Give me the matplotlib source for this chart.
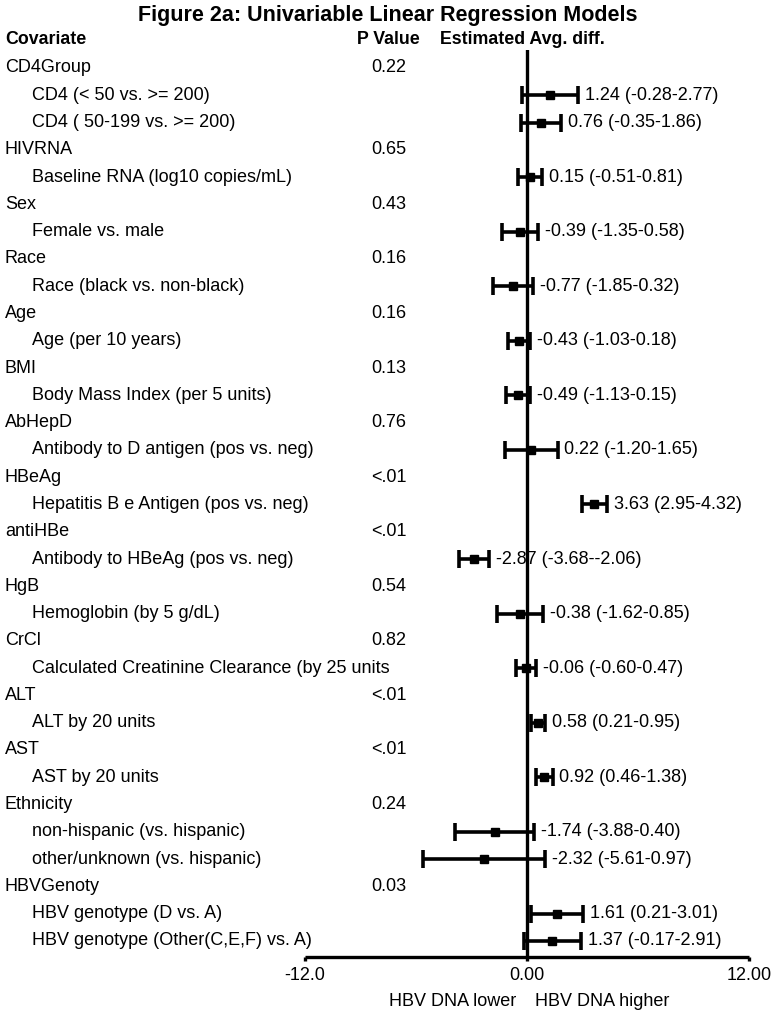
import matplotlib
matplotlib.use("Agg")
import matplotlib.pyplot as plt

plt.rcParams['font.family'] = ['Liberation Sans', 'DejaVu Sans']

# ---------------- data ----------------
groups = ["CD4Group", "HIVRNA", "Sex", "Race", "Age", "BMI", "AbHepD", "HBeAg",
          "antiHBe", "HgB", "CrCl", "ALT", "AST", "Ethnicity", "HBVGenoty"]
group_pvalues = ["0.22", "0.65", "0.43", "0.16", "0.16", "0.13", "0.76", "<.01",
                 "<.01", "0.54", "0.82", "<.01", "<.01", "0.24", "0.03"]
group_items = [
    ["CD4 (< 50 vs. >= 200)", "CD4 ( 50-199 vs. >= 200)"],
    ["Baseline RNA (log10 copies/mL)"],
    ["Female vs. male"],
    ["Race (black vs. non-black)"],
    ["Age (per 10 years)"],
    ["Body Mass Index (per 5 units)"],
    ["Antibody to D antigen (pos vs. neg)"],
    ["Hepatitis B e Antigen (pos vs. neg)"],
    ["Antibody to HBeAg (pos vs. neg)"],
    ["Hemoglobin (by 5 g/dL)"],
    ["Calculated Creatinine Clearance (by 25 units"],
    ["ALT by 20 units"],
    ["AST by 20 units"],
    ["non-hispanic (vs. hispanic)", "other/unknown (vs. hispanic)"],
    ["HBV genotype (D vs. A)", "HBV genotype (Other(C,E,F) vs. A)"],
]
estimates = [1.24, 0.76, 0.15, -0.39, -0.77, -0.43, -0.49, 0.22, 3.63, -2.87,
             -0.38, -0.06, 0.58, 0.92, -1.74, -2.32, 1.61, 1.37]
ci_low = [-0.28, -0.35, -0.51, -1.35, -1.85, -1.03, -1.13, -1.20, 2.95, -3.68,
          -1.62, -0.60, 0.21, 0.46, -3.88, -5.61, 0.21, -0.17]
ci_high = [2.77, 1.86, 0.81, 0.58, 0.32, 0.18, 0.15, 1.65, 4.32, -2.06,
           0.85, 0.47, 0.95, 1.38, 0.40, 0.97, 3.01, 2.91]
xticks = [-12, 0, 12]
xtick_labels = ["-12.0", "0.00", "12.00"]

# ---------------- layout ----------------
W, H = 776, 1015
fig = plt.figure(figsize=(W / 100, H / 100), dpi=100)

row0_px, row_step_px = 68, 27.28
ax_left_px, ax_right_px = 305, 749
ax_top_px, ax_bot_px = 50, 957

ax = fig.add_axes([ax_left_px / W, 1 - ax_bot_px / H,
                   (ax_right_px - ax_left_px) / W, (ax_bot_px - ax_top_px) / H])
ax.set_xlim(-12, 12)
ax.set_ylim((ax_bot_px - row0_px) / row_step_px, (ax_top_px - row0_px) / row_step_px)
for s in ["top", "right", "left"]:
    ax.spines[s].set_visible(False)
ax.spines["bottom"].set_linewidth(2.4)
ax.spines["bottom"].set_capstyle("butt")
ax.set_yticks([])
ax.set_xticks(xticks)
ax.set_xticklabels(xtick_labels, fontsize=13)
ax.tick_params(axis="x", length=3, width=2.4, pad=4)
ax.patch.set_visible(False)

ax.axvline(0, color="black", lw=2.4, zorder=1)

def ypx(i):
    return 1 - (row0_px + row_step_px * i) / H

fs = 13
# headers
fig.text(0.5, 1 - 15 / H, "Figure 2a: Univariable Linear Regression Models",
         ha="center", va="center", fontsize=15.5, fontweight="bold")
fig.text(5 / W, 1 - 40 / H, "Covariate", ha="left", va="center", fontsize=12.8, fontweight="bold")
fig.text(420 / W, 1 - 40 / H, "P Value", ha="right", va="center", fontsize=12.8, fontweight="bold")
fig.text(440 / W, 1 - 40 / H, "Estimated Avg. diff.", ha="left", va="center", fontsize=12.8, fontweight="bold")

row = 0
k = 0
for g, p, items in zip(groups, group_pvalues, group_items):
    fig.text(5 / W, ypx(row), g, ha="left", va="center", fontsize=fs)
    fig.text(371 / W, ypx(row), p, ha="left", va="center", fontsize=fs)
    row += 1
    for it in items:
        fig.text(32 / W, ypx(row), it, ha="left", va="center", fontsize=fs)
        e, lo, hi = estimates[k], ci_low[k], ci_high[k]
        ax.errorbar([e], [row], xerr=[[e - lo], [hi - e]], fmt="s", color="black",
                    ms=5.5, lw=2.6, capsize=6.5, capthick=2.6, zorder=3, clip_on=False)
        ax.annotate(f"{e:.2f} ({lo:.2f}-{hi:.2f})", xy=(hi, row), xytext=(5, 0),
                    textcoords="offset points", ha="left", va="center", fontsize=fs,
                    annotation_clip=False)
        row += 1
        k += 1

fig.text(516 / W, 1 - 1002 / H, "HBV DNA lower", ha="right", va="center", fontsize=fs)
fig.text(535 / W, 1 - 1002 / H, "HBV DNA higher", ha="left", va="center", fontsize=fs)

fig.savefig("out.png", dpi=100)
